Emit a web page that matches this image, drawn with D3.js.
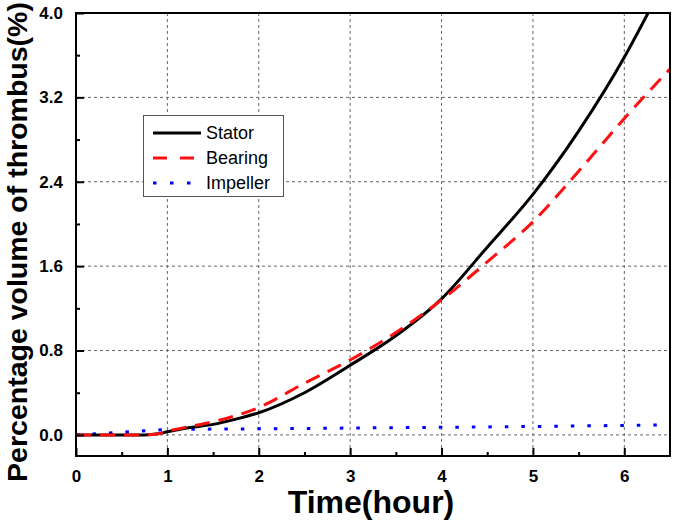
<!DOCTYPE html>
<meta charset="utf-8">
<style>
body { margin: 0; background: #fff; }
text { font-family: Arial, "Liberation Sans", sans-serif; }
.grid line { stroke: #666; stroke-width: 1; stroke-dasharray: 3,3; }
.tick-label { font-size: 17px; font-weight: bold; }
.legend text { font-size: 18px; }
</style>
<svg width="675" height="522"></svg>
<script src="https://cdnjs.cloudflare.com/ajax/libs/d3/7.8.5/d3.min.js"></script>
<script>

// values
var statorT = [0, 0.5, 0.75, 0.9, 1.0, 1.25, 1.5, 1.75, 2.0, 2.5, 3.0, 3.5, 4.0, 4.5, 5.0, 5.5, 6.0, 6.26];
var stator  = [0, 0, 0, 0.01, 0.03, 0.07, 0.10, 0.15, 0.21, 0.40, 0.66, 0.94, 1.29, 1.78, 2.28, 2.88, 3.58, 4.0];

var bearingT = [0, 0.5, 0.75, 0.9, 1.0, 1.25, 1.5, 2.0, 2.5, 3.0, 3.5, 4.0, 4.5, 5.0, 5.5, 6.0, 6.5];
var bearing  = [0, 0, 0, 0.01, 0.035, 0.08, 0.125, 0.26, 0.49, 0.71, 0.97, 1.28, 1.64, 2.02, 2.5, 3.0, 3.47];

var impellerT = [0, 0.5, 1.0, 1.5, 2.0, 3.0, 4.0, 5.0, 6.0, 6.5];
var impeller  = [0, 0.025, 0.05, 0.055, 0.058, 0.065, 0.072, 0.08, 0.09, 0.095];

var xTicks = [0, 1, 2, 3, 4, 5, 6];
var yTicks = [0, 0.8, 1.6, 2.4, 3.2, 4.0];
var xMinor = [0.5, 1.5, 2.5, 3.5, 4.5, 5.5];
var yMinor = [0.4, 1.2, 2.0, 2.8, 3.6];

var seriesNames = ["Stator", "Bearing", "Impeller"];

var svg = d3.select("svg");
var plotLeft = 76, plotRight = 670, plotTop = 13, plotBottom = 456;

var x = d3.scaleLinear().domain([0, 6.5]).range([plotLeft, plotRight]);
var y = d3.scaleLinear().domain([-0.2, 4.0]).range([plotBottom, plotTop]);

// grid
var grid = svg.append("g").attr("class", "grid");
grid.selectAll(".gx").data(xTicks.filter(function(d) { return d > 0; }))
  .enter().append("line")
    .attr("x1", x).attr("x2", x)
    .attr("y1", plotTop).attr("y2", plotBottom);
grid.selectAll(".gy").data(yTicks.filter(function(d) { return d < 4; }))
  .enter().append("line")
    .attr("x1", plotLeft).attr("x2", plotRight)
    .attr("y1", y).attr("y2", y);

svg.append("clipPath").attr("id", "clip")
  .append("rect").attr("x", plotLeft).attr("y", plotTop)
    .attr("width", plotRight - plotLeft).attr("height", plotBottom - plotTop);

var line = d3.line()
    .x(function(d) { return x(d[0]); })
    .y(function(d) { return y(d[1]); })
    .curve(d3.curveMonotoneX);

var plot = svg.append("g").attr("clip-path", "url(#clip)");

plot.append("path")
    .datum(d3.zip(impellerT, impeller))
    .attr("d", line)
    .attr("fill", "none")
    .attr("stroke", "#0000ff")
    .attr("stroke-width", 3)
    .attr("stroke-dasharray", "3.5,13");

plot.append("path")
    .datum(d3.zip(statorT, stator))
    .attr("d", line)
    .attr("fill", "none")
    .attr("stroke", "#000")
    .attr("stroke-width", 3);

plot.append("path")
    .datum(d3.zip(bearingT, bearing))
    .attr("d", line)
    .attr("fill", "none")
    .attr("stroke", "#ff1010")
    .attr("stroke-width", 3)
    .attr("stroke-dasharray", "15,9");

// axes with inward ticks
var xAxis = svg.append("g").attr("transform", "translate(0," + plotBottom + ")")
    .call(d3.axisBottom(x).tickValues(xTicks).tickSize(-8).tickPadding(14).tickFormat(d3.format("d")));
var xAxisMinor = svg.append("g").attr("transform", "translate(0," + plotBottom + ")")
    .call(d3.axisBottom(x).tickValues(xMinor).tickSize(-4).tickFormat(""));
var yAxis = svg.append("g").attr("transform", "translate(" + plotLeft + ",0)")
    .call(d3.axisLeft(y).tickValues(yTicks).tickSize(-8).tickPadding(13).tickFormat(d3.format(".1f")));
var yAxisMinor = svg.append("g").attr("transform", "translate(" + plotLeft + ",0)")
    .call(d3.axisLeft(y).tickValues(yMinor).tickSize(-4).tickFormat(""));

[xAxis, xAxisMinor, yAxis, yAxisMinor].forEach(function(a) {
  a.attr("font-family", null).attr("font-size", null);
  a.select(".domain").remove();
  a.selectAll("line").attr("stroke", "#000").attr("stroke-width", 2);
  a.selectAll("text").attr("class", "tick-label").attr("fill", "#000");
});

// frame
svg.append("rect")
    .attr("x", plotLeft).attr("y", plotTop)
    .attr("width", plotRight - plotLeft).attr("height", plotBottom - plotTop)
    .attr("fill", "none")
    .attr("stroke", "#000")
    .attr("stroke-width", 2);

// axis titles
svg.append("text")
    .attr("x", 371).attr("y", 513)
    .attr("text-anchor", "middle")
    .attr("font-size", 32)
    .attr("font-weight", "bold")
    .text("Time(hour)");

svg.append("text")
    .attr("transform", "translate(27,242) rotate(-90)")
    .attr("text-anchor", "middle")
    .attr("font-size", 28.5)
    .attr("font-weight", "bold")
    .text("Percentage volume of thrombus(%)");

// legend
var legend = svg.append("g").attr("class", "legend");
legend.append("rect")
    .attr("x", 143.5).attr("y", 115.5)
    .attr("width", 140).attr("height", 81)
    .attr("fill", "#fff")
    .attr("stroke", "#555")
    .attr("stroke-width", 1);

var styles = [
  {stroke: "#000", dash: null},
  {stroke: "#ff1010", dash: "14,13"},
  {stroke: "#0000ff", dash: "3.5,13.5"}
];

var row = legend.selectAll(".row").data(seriesNames)
  .enter().append("g")
    .attr("transform", function(d, i) { return "translate(0," + (133 + i * 25) + ")"; });

row.append("line")
    .attr("x1", 153).attr("x2", 201)
    .attr("stroke", function(d, i) { return styles[i].stroke; })
    .attr("stroke-width", 3)
    .attr("stroke-dasharray", function(d, i) { return styles[i].dash; });

row.append("text")
    .attr("x", 206).attr("dy", "0.35em")
    .text(function(d) { return d; });

</script>
